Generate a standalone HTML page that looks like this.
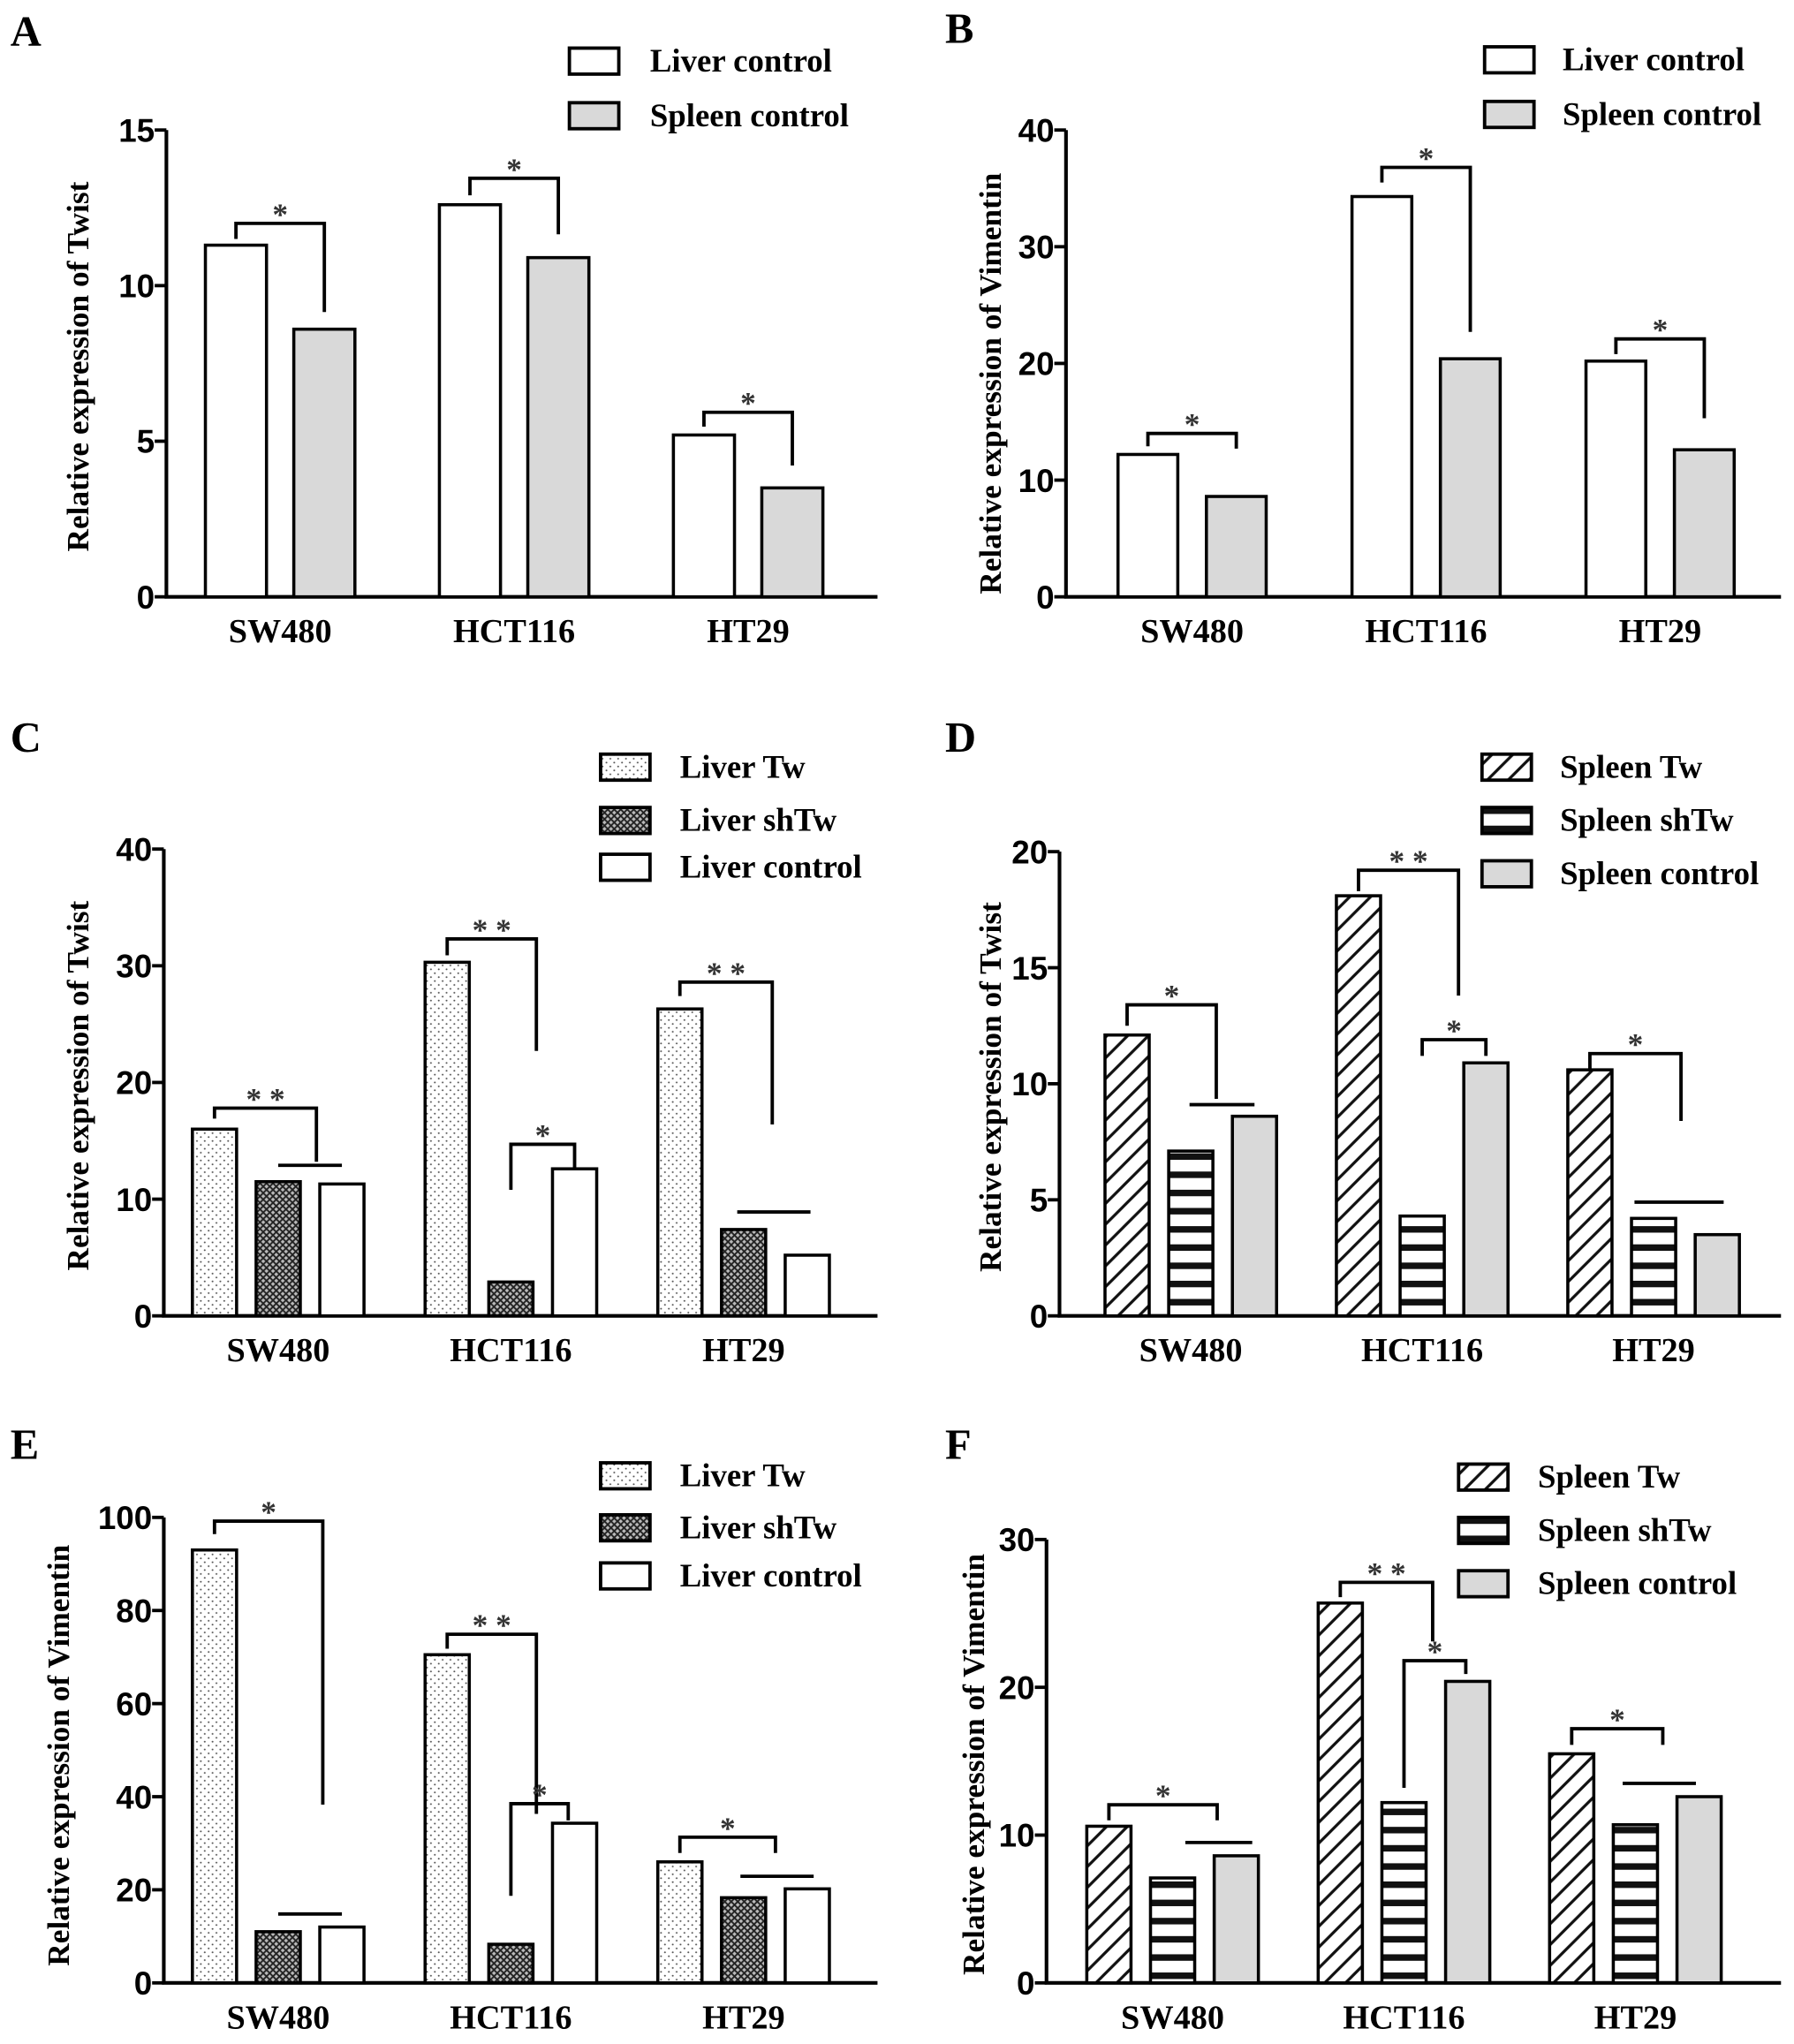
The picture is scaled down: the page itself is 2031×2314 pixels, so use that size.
<!DOCTYPE html>
<html><head><meta charset="utf-8"><style>
html,body{margin:0;padding:0;background:#fff}
svg{display:block}
text{font-weight:bold}
.ser{font-family:"Liberation Serif",serif}
.san{font-family:"Liberation Sans",sans-serif}
</style></head><body>
<svg id="fig" width="2031" height="2314" viewBox="0 0 1380 1572" preserveAspectRatio="none" xmlns="http://www.w3.org/2000/svg">
<defs>
<pattern id="pDots" patternUnits="userSpaceOnUse" width="6" height="6"><rect width="6" height="6" fill="#fff"/><circle cx="1.5" cy="1.5" r="0.7" fill="#555"/><circle cx="4.5" cy="4.5" r="0.7" fill="#555"/></pattern>
<pattern id="pCross" patternUnits="userSpaceOnUse" width="5" height="5"><rect width="5" height="5" fill="#bbb"/><path d="M0 0L5 5M5 0L0 5" stroke="#222" stroke-width="1.3"/></pattern>
<pattern id="pDiag" patternUnits="userSpaceOnUse" width="16" height="16"><rect width="16" height="16" fill="#fff"/><path d="M-4 20L20 -4M-4 4L4 -4M12 20L20 12" stroke="#111" stroke-width="2.2"/></pattern>
<pattern id="pHoriz" patternUnits="userSpaceOnUse" width="10" height="14"><rect width="10" height="14" fill="#fff"/><rect y="5" width="10" height="5" fill="#111"/></pattern>
</defs>
</svg>
<script>
const categories = ['SW480','HCT116','HT29'];
const aLiverControl = [11.3, 12.6, 5.2];
const aSpleenControl = [8.6, 10.9, 3.5];
const bLiverControl = [12.2, 34.3, 20.2];
const bSpleenControl = [8.6, 20.4, 12.6];
const cLiverTw = [16.0, 30.3, 26.3];
const cLiverShTw = [11.5, 2.9, 7.4];
const cLiverControl = [11.3, 12.6, 5.2];
const dSpleenTw = [12.1, 18.1, 10.6];
const dSpleenShTw = [7.1, 4.3, 4.2];
const dSpleenControl = [8.6, 10.9, 3.5];
const eLiverTw = [93, 70.5, 26];
const eLiverShTw = [11, 8.3, 18.3];
const eLiverControl = [12, 34.3, 20.2];
const fSpleenTw = [10.6, 25.7, 15.5];
const fSpleenShTw = [7.1, 12.2, 10.7];
const fSpleenControl = [8.6, 20.4, 12.6];
const aTicks = [0,5,10,15];
const bTicks = [0,10,20,30,40];
const cTicks = [0,10,20,30,40];
const dTicks = [0,5,10,15,20];
const eTicks = [0,20,40,60,80,100];
const fTicks = [0,10,20,30];
// brackets: [group, leftBar, leftDrop, rightBar, rightDrop, level, label]
const aBrackets = [[0,0,11.5,1,9.15,12.0,'*'],[1,0,12.9,1,11.65,13.45,'*'],[2,0,5.47,1,4.22,5.93,'*']];
const bBrackets = [[0,0,12.9,1,12.7,14.0,'*'],[1,0,35.5,1,22.7,36.8,'*'],[2,0,20.8,1,15.3,22.1,'*']];
const cBrackets = [[0,0,16.9,1.6,13.2,17.8,'**'],[0,1,12.9,2,12.9,12.9,''],[1,0,30.9,1.4,22.7,32.3,'**'],[1,1,10.8,2,12.7,14.7,'*'],[2,0,27.4,1.45,16.4,28.6,'**'],[2,0.9,8.9,2.05,8.9,8.9,'']];
const dBrackets = [[0,0,12.5,1.4,9.35,13.4,'*'],[0,0.98,9.1,2,9.1,9.1,''],[1,0,18.3,1.57,13.8,19.2,'**'],[1,1,11.2,2,11.2,11.9,'*'],[2,0,10.65,1.43,8.4,11.3,'*'],[2,0.7,4.9,2.1,4.9,4.9,'']];
const eBrackets = [[0,0,96.4,1.7,38.3,99.2,'*'],[0,1,14.8,2,14.8,14.8,''],[1,0,71.8,1.4,36.3,74.9,'**'],[1,1,18.7,1.9,34.9,38.5,'*'],[2,0,27.9,1.5,27.9,31.3,'*'],[2,0.95,22.9,2.1,22.9,22.9,'']];
const fBrackets = [[0,0,11.0,1.7,11.0,12.05,'*'],[0,1.2,9.5,2.25,9.5,9.5,''],[1,0,26.1,1.45,23.1,27.1,'**'],[1,1,13.2,1.97,20.9,21.8,'*'],[2,0,16.1,1.43,16.1,17.2,'*'],[2,0.8,13.5,1.95,13.5,13.5,'']];

const svg = document.getElementById('fig');
const NS = 'http://www.w3.org/2000/svg';
function mk(tag, attrs, parent){const e=document.createElementNS(NS,tag);for(const k in attrs)e.setAttribute(k,attrs[k]);(parent||svg).appendChild(e);return e;}
const fills = {lc:'#fff', sc:'#d9d9d9', tw:'url(#pDots)', sh:'url(#pCross)', stw:'url(#pDiag)', ssh:'url(#pHoriz)'};

function panel(p){
  const g = mk('g',{});
  
  
  const yS = v => p.y0 - (v/p.ymax)*(p.y0-p.yTop);
  const bx = (gi,i) => p.starts[gi] + i*p.step;
  const bc = (gi,i) => p.starts[gi] + i*p.step + p.w/2;
  const t = mk('text',{x:p.lx,y:p.ly,'font-size':33,class:'ser'},g); t.textContent=p.letter;
  
  
  const ax = mk('path',{d:`M${p.ax} ${p.yTop}V${p.y0}H${p.axEnd}`,stroke:'#000','stroke-width':2.8,fill:'none'},g);
  
  
  p.ticks.forEach(v=>{
    const y=yS(v);
    mk('line',{x1:p.ax-9,x2:p.ax,y1:y,y2:y,stroke:'#000','stroke-width':2.6},g);
    const tl = mk('text',{x:p.ax-9,y:y+9,'font-size':25,'text-anchor':'end',class:'san'},g);
    tl.textContent=v;
    
    
  });
  const yl = mk('text',{x:0,y:0,'font-size':24,'text-anchor':'middle',class:'ser',transform:`translate(${p.ylx},${p.yly}) rotate(-90)`},g);
  yl.textContent=p.ytitle;
  
  
  p.series.forEach((s,i)=>{
    s.vals.forEach((v,gi)=>{
      const r = mk('rect',{x:bx(gi,i),y:yS(v),width:p.w,height:p.y0-yS(v),fill:fills[s.f],stroke:'#000','stroke-width':2.4},g);
      
      
    });
    const ly = p.legY[i];
    const lb = mk('rect',{x:p.legX,y:ly-10,width:38,height:20,fill:fills[s.f],stroke:'#000','stroke-width':2.6},g);
    
    
    const lt = mk('text',{x:p.legTX,y:ly+8,'font-size':25,class:'ser'},g);
    lt.textContent=s.name;
    
    
  });
  categories.forEach((c,gi)=>{
    const n=p.series.length;
    const cx=(bx(gi,0)+bx(gi,n-1)+p.w)/2;
    const ct = mk('text',{x:cx,y:p.catY,'font-size':26,'text-anchor':'middle',class:'ser'},g);
    ct.textContent=c;
    
    
  });
  p.br.forEach(b=>{
    const [gi,il,ld,ir,rd,lv,lab]=b;
    const x1=bc(gi,il), x2=bc(gi,ir), y=yS(lv);
    const pth = mk('path',{d:`M${x1} ${yS(ld)}V${y}H${x2}V${yS(rd)}`,stroke:'#000','stroke-width':2.6,fill:'none'},g);
    
    
    if(lab){
      const st = mk('text',{x:(x1+x2)/2,y:y+1,'font-size':24,'text-anchor':'middle',fill:'#333',class:'ser'},g);
      st.textContent=lab.split('').join(' ');
      
      
    }
  });
}
panel({letter:'A',lx:8,ly:35,ax:128,axEnd:675,yTop:100,y0:459,ymax:15,ticks:aTicks,starts:[158,338,518],step:68,w:47,
  series:[{name:'Liver control',f:'lc',vals:aLiverControl},{name:'Spleen control',f:'sc',vals:aSpleenControl}],
  legX:438,legTX:500,legY:[47,89],catY:494,ylx:68,yly:282,ytitle:'Relative expression of Twist',br:aBrackets});
panel({letter:'B',lx:727,ly:33,ax:820,axEnd:1370,yTop:100,y0:459,ymax:40,ticks:bTicks,starts:[860,1040,1220],step:68,w:46,
  series:[{name:'Liver control',f:'lc',vals:bLiverControl},{name:'Spleen control',f:'sc',vals:bSpleenControl}],
  legX:1142,legTX:1202,legY:[46,88],catY:494,ylx:770,yly:295,ytitle:'Relative expression of Vimentin',br:bBrackets});
panel({letter:'C',lx:8,ly:578,ax:126,axEnd:675,yTop:653,y0:1012,ymax:40,ticks:cTicks,starts:[148,327,506],step:49,w:34,
  series:[{name:'Liver Tw',f:'tw',vals:cLiverTw},{name:'Liver shTw',f:'sh',vals:cLiverShTw},{name:'Liver control',f:'lc',vals:cLiverControl}],
  legX:462,legTX:523,legY:[590,631,667],catY:1047,ylx:68,yly:835,ytitle:'Relative expression of Twist',br:cBrackets});
panel({letter:'D',lx:727,ly:578,ax:815,axEnd:1370,yTop:655,y0:1012,ymax:20,ticks:dTicks,starts:[850,1028,1206],step:49,w:34,
  series:[{name:'Spleen Tw',f:'stw',vals:dSpleenTw},{name:'Spleen shTw',f:'ssh',vals:dSpleenShTw},{name:'Spleen control',f:'sc',vals:dSpleenControl}],
  legX:1140,legTX:1200,legY:[590,631,672],catY:1047,ylx:770,yly:836,ytitle:'Relative expression of Twist',br:dBrackets});
panel({letter:'E',lx:8,ly:1122,ax:126,axEnd:675,yTop:1167,y0:1525,ymax:100,ticks:eTicks,starts:[148,327,506],step:49,w:34,
  series:[{name:'Liver Tw',f:'tw',vals:eLiverTw},{name:'Liver shTw',f:'sh',vals:eLiverShTw},{name:'Liver control',f:'lc',vals:eLiverControl}],
  legX:462,legTX:523,legY:[1135,1175,1212],catY:1560,ylx:53,yly:1350,ytitle:'Relative expression of Vimentin',br:eBrackets});
panel({letter:'F',lx:727,ly:1122,ax:805,axEnd:1370,yTop:1184,y0:1525,ymax:30,ticks:fTicks,starts:[836,1014,1192],step:49,w:34,
  series:[{name:'Spleen Tw',f:'stw',vals:fSpleenTw},{name:'Spleen shTw',f:'ssh',vals:fSpleenShTw},{name:'Spleen control',f:'sc',vals:fSpleenControl}],
  legX:1122,legTX:1183,legY:[1136,1177,1218],catY:1560,ylx:757,yly:1357,ytitle:'Relative expression of Vimentin',br:fBrackets});
</script>
</body></html>
